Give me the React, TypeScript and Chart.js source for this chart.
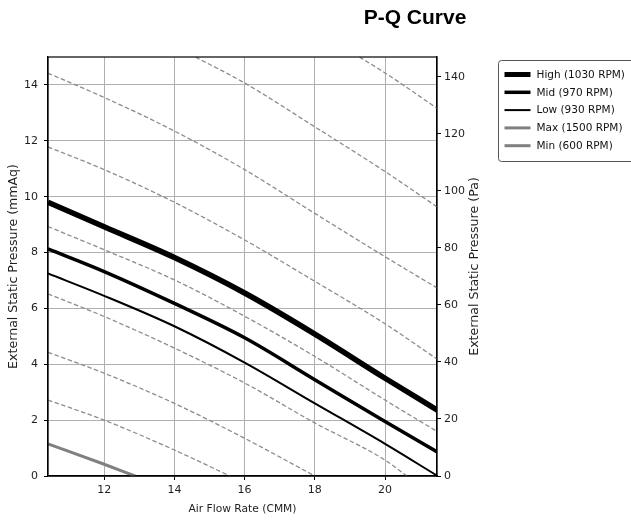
import { useEffect, useRef } from "react";
import { Chart, registerables } from "chart.js";

Chart.register(...registerables);

// ---------- data ----------
const TITLE = "P-Q Curve";
const X_TITLE = "Air Flow Rate (CMM)";
const Y_LEFT_TITLE = "External Static Pressure (mmAq)";
const Y_RIGHT_TITLE = "External Static Pressure (Pa)";

const X_MIN = 10.4;
const X_MAX = 21.48;
const Y_MAX_MMAQ = 15;
const PA_PER_MMAQ = 9.8;

// fan curves (solid)
const FLOW = [10.4, 12, 14, 16, 18, 20, 21.5];
const HIGH_P = [9.8, 8.92, 7.82, 6.55, 5.08, 3.5, 2.35];
const MID_P = [8.13, 7.32, 6.18, 4.95, 3.45, 1.95, 0.85];
const LOW_P = [7.25, 6.45, 5.36, 4.06, 2.6, 1.15, 0];
const MAX_FLOW: number[] = []; // off the visible scale
const MAX_P: number[] = [];
const MIN_FLOW = [10.4, 12, 12.88];
const MIN_P = [1.15, 0.42, 0];

const SERIES_LABELS = [
  "High (1030 RPM)",
  "Mid (970 RPM)",
  "Low (930 RPM)",
  "Max (1500 RPM)",
  "Min (600 RPM)",
];

// reference curves (dashed)
const REF1_FLOW = [19.27, 20, 21.5];
const REF1_P = [15, 14.43, 13.15];
const REF2_FLOW = [14.6, 16, 18, 20, 21.5];
const REF2_P = [15, 14.07, 12.5, 10.9, 9.62];
const REF3_FLOW = [10.4, 12, 14, 16, 18, 20, 21.5];
const REF3_P = [14.42, 13.55, 12.35, 10.97, 9.4, 7.85, 6.72];
const REF4_FLOW = [10.4, 12, 14, 16, 18, 20, 21.5];
const REF4_P = [11.78, 10.97, 9.8, 8.45, 6.97, 5.45, 4.17];
const REF5_FLOW = [10.4, 12, 14, 16, 18, 20, 21.5];
const REF5_P = [8.93, 8.1, 7.02, 5.72, 4.28, 2.72, 1.58];
const REF6_FLOW = [10.4, 12, 14, 16, 18, 20, 20.62];
const REF6_P = [6.52, 5.71, 4.58, 3.33, 1.9, 0.57, 0];
const REF7_FLOW = [10.4, 12, 14, 16, 18];
const REF7_P = [4.43, 3.68, 2.6, 1.35, 0];
const REF8_FLOW = [10.4, 12, 14, 15.58];
const REF8_P = [2.72, 2.0, 0.93, 0];

const toPts = (xs: number[], ys: number[]) => xs.map((x, i) => ({ x, y: ys[i] }));

const FAMILY = "'DejaVu Sans', sans-serif";
const TICK_FONT = { family: FAMILY, size: 11 };
const X_TITLE_FONT = { family: FAMILY, size: 10.7 };
const Y_TITLE_FONT = { family: FAMILY, size: 12.6 };
const TEXT_COLOR = "#1f1f1f";
const GRID_COLOR = "#b0b0b0";

export default function App() {
  const ref = useRef<HTMLCanvasElement | null>(null);

  useEffect(() => {
    if (!ref.current) return;

    const solid = (label: string, xs: number[], ys: number[], color: string, width: number) => ({
      label,
      data: toPts(xs, ys),
      borderColor: color,
      backgroundColor: color,
      borderWidth: width,
      pointRadius: 0,
      cubicInterpolationMode: "monotone" as const,
      clip: 0,
      inLegend: true,
    });
    const dashed = (xs: number[], ys: number[]) => ({
      label: "",
      data: toPts(xs, ys),
      borderColor: "#8c8c8c",
      borderWidth: 1.3,
      borderDash: [4.5, 2.5],
      pointRadius: 0,
      cubicInterpolationMode: "monotone" as const,
      clip: 0,
      inLegend: false,
    });

    const datasets: any[] = [
      dashed(REF1_FLOW, REF1_P),
      dashed(REF2_FLOW, REF2_P),
      dashed(REF3_FLOW, REF3_P),
      dashed(REF4_FLOW, REF4_P),
      dashed(REF5_FLOW, REF5_P),
      dashed(REF6_FLOW, REF6_P),
      dashed(REF7_FLOW, REF7_P),
      dashed(REF8_FLOW, REF8_P),
      solid(SERIES_LABELS[0], FLOW, HIGH_P, "#000000", 5.5),
      solid(SERIES_LABELS[1], FLOW, MID_P, "#000000", 3.5),
      solid(SERIES_LABELS[2], FLOW, LOW_P, "#000000", 2),
      solid(SERIES_LABELS[3], MAX_FLOW, MAX_P, "#808080", 3),
      solid(SERIES_LABELS[4], MIN_FLOW, MIN_P, "#808080", 3),
    ];

    const decor = {
      id: "decor",
      afterDatasetsDraw(chart: any) {
        const { ctx, chartArea: a } = chart;
        ctx.save();
        ctx.strokeStyle = "#000";
        ctx.lineWidth = 1.2;
        ctx.strokeRect(a.left, a.top, a.right - a.left, a.bottom - a.top);
        ctx.restore();
      },
      afterDraw(chart: any) {
        const { ctx, chartArea: a } = chart;
        ctx.save();
        // title
        ctx.fillStyle = "#000";
        ctx.font = "bold 21px 'Liberation Sans', Arial, sans-serif";
        ctx.textAlign = "center";
        ctx.textBaseline = "middle";
        ctx.fillText(TITLE, a.right - 22, a.top - 39);

        // right axis title, reading bottom-to-top like the left one
        ctx.save();
        ctx.translate(a.right + 38, (a.top + a.bottom) / 2);
        ctx.rotate(-Math.PI / 2);
        ctx.font = `${Y_TITLE_FONT.size}px ${FAMILY}`;
        ctx.fillStyle = TEXT_COLOR;
        ctx.textAlign = "center";
        ctx.textBaseline = "middle";
        ctx.fillText(Y_RIGHT_TITLE, 0, 0);
        ctx.restore();

        // legend
        const items = chart.data.datasets.filter((d: any) => d.inLegend);
        const x0 = a.right + 61.5;
        const y0 = a.top + 3.5;
        const w = 150;
        const h = 101;
        const r = 3;
        ctx.beginPath();
        ctx.moveTo(x0 + r, y0);
        ctx.lineTo(x0 + w - r, y0);
        ctx.arcTo(x0 + w, y0, x0 + w, y0 + r, r);
        ctx.lineTo(x0 + w, y0 + h - r);
        ctx.arcTo(x0 + w, y0 + h, x0 + w - r, y0 + h, r);
        ctx.lineTo(x0 + r, y0 + h);
        ctx.arcTo(x0, y0 + h, x0, y0 + h - r, r);
        ctx.lineTo(x0, y0 + r);
        ctx.arcTo(x0, y0, x0 + r, y0, r);
        ctx.closePath();
        ctx.fillStyle = "#fff";
        ctx.fill();
        ctx.strokeStyle = "#555";
        ctx.lineWidth = 1;
        ctx.stroke();

        ctx.font = `10.5px ${FAMILY}`;
        ctx.textAlign = "left";
        ctx.textBaseline = "middle";
        items.forEach((d: any, i: number) => {
          const y = y0 + 14 + i * 17.8;
          ctx.beginPath();
          ctx.moveTo(x0 + 6, y);
          ctx.lineTo(x0 + 32, y);
          ctx.strokeStyle = d.borderColor;
          ctx.lineWidth = Math.min(d.borderWidth, 5);
          ctx.stroke();
          ctx.fillStyle = "#111";
          ctx.fillText(d.label, x0 + 38, y + 0.5);
        });
        ctx.restore();
      },
    };

    const chart = new Chart(ref.current, {
      type: "line",
      data: { datasets },
      options: {
        animation: false,
        responsive: false,
        maintainAspectRatio: false,
        layout: { padding: { left: 2, right: 145, top: 57, bottom: 0 } },
        plugins: {
          legend: { display: false },
          title: { display: false },
          tooltip: { enabled: false },
        },
        scales: {
          x: {
            type: "linear",
            min: X_MIN,
            max: X_MAX,
            afterFit: (s: any) => {
              s.height = 44;
            },
            ticks: {
              stepSize: 2,
              includeBounds: false,
              font: TICK_FONT,
              color: TEXT_COLOR,
              padding: 4,
              maxRotation: 0,
            },
            grid: { color: GRID_COLOR, lineWidth: 1, tickColor: "#000", tickLength: 4 },
            border: { color: "#000", width: 1.2 },
            title: {
              display: true,
              text: X_TITLE,
              font: X_TITLE_FONT,
              color: TEXT_COLOR,
            },
          },
          y: {
            type: "linear",
            position: "left",
            min: 0,
            max: Y_MAX_MMAQ,
            afterFit: (s: any) => {
              s.width = 46;
            },
            ticks: {
              stepSize: 2,
              includeBounds: false,
              font: TICK_FONT,
              color: TEXT_COLOR,
              padding: 6,
            },
            grid: { color: GRID_COLOR, lineWidth: 1, tickColor: "#000", tickLength: 4 },
            border: { color: "#000", width: 1.2 },
            title: {
              display: true,
              text: Y_LEFT_TITLE,
              font: Y_TITLE_FONT,
              color: TEXT_COLOR,
            },
          },
          yPa: {
            type: "linear",
            position: "right",
            min: 0,
            max: Y_MAX_MMAQ * PA_PER_MMAQ,
            afterFit: (s: any) => {
              s.width = 49;
            },
            ticks: {
              stepSize: 20,
              includeBounds: false,
              font: TICK_FONT,
              color: TEXT_COLOR,
              padding: 3,
            },
            grid: { drawOnChartArea: false, tickColor: "#000", tickLength: 4 },
            border: { color: "#000", width: 1.2 },
            title: { display: false },
          },
        },
      } as any,
      plugins: [decor],
    });

    return () => chart.destroy();
  }, []);

  return (
    <div style={{ position: "fixed", left: 0, top: 0, width: 631, height: 520, background: "#fff" }}>
      <canvas ref={ref} width={631} height={520} style={{ display: "block" }} />
    </div>
  );
}
